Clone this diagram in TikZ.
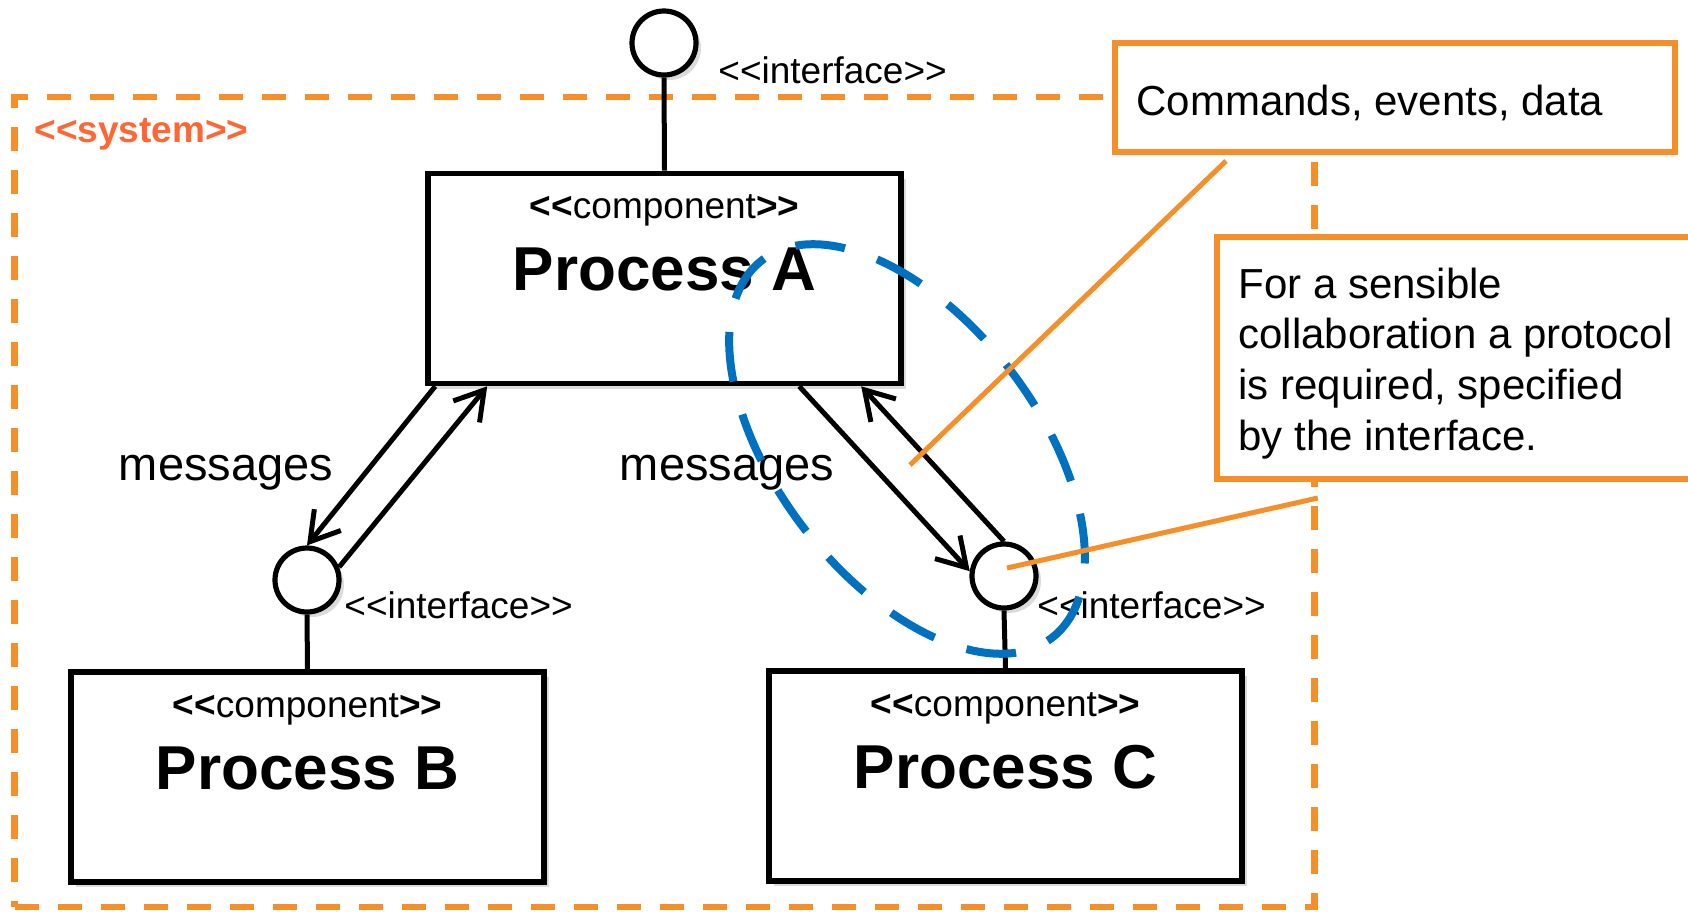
\documentclass[tikz,border=0pt]{standalone}
\usepackage{fontspec}
\setmainfont{Liberation Sans}
\usetikzlibrary{arrows.meta,calc,shadows}
\definecolor{sysorange}{HTML}{F58F29}
\definecolor{syslabel}{HTML}{FF6633}
\definecolor{protoblue}{HTML}{0070C0}
\newcommand\stereo[1]{{\bfseries <{}<}#1{\bfseries >{}>}}
\begin{document}
\begin{tikzpicture}[x=0.5pt,y=-0.5pt,
  softshadow/.style={drop shadow={shadow xshift=2.5pt, shadow yshift=-2.5pt, opacity=0.2, fill=black!70}},
  comp/.style={draw, line width=2.8pt, fill=white, minimum width=236.5pt, minimum height=105pt, inner sep=0pt, softshadow},
  iface/.style={draw, circle, line width=2.6pt, fill=white, minimum size=32pt, inner sep=0pt, softshadow},
  wire/.style={line width=2.5pt},
  msg/.style={line width=2.5pt, -{Straight Barb[length=14pt,width=17pt,line width=2.5pt]}},
  stereotxt/.style={font=\fontsize{18.5}{22}\selectfont, inner sep=0pt, anchor=base},
  titletxt/.style={font=\fontsize{31}{36}\selectfont\bfseries, inner sep=0pt, anchor=base},
  ifacetxt/.style={font=\fontsize{18.5}{22}\selectfont, inner sep=0pt, anchor=base west},
  msgtxt/.style={font=\fontsize{23.5}{28}\selectfont, inner sep=0pt, anchor=base},
  notetxt/.style={font=\fontsize{21}{25.33}\selectfont, inner sep=0pt, anchor=base west, align=left},
  sysbox/.style={draw=sysorange, line width=3.3pt, dash pattern=on 12pt off 9.5pt, inner sep=0pt},
  notebox/.style={draw=sysorange, line width=3.3pt, fill=white, inner sep=0pt},
  callout/.style={draw=sysorange, line width=2.5pt},
  protocol/.style={draw=protoblue, line width=4pt, dash pattern=on 25pt off 17pt}
]
\useasboundingbox (0,0) rectangle (1688,911);

% system boundary
\node[sysbox, minimum width=650pt, minimum height=405pt] (sys) at (664.5,502) {};
\node[font=\fontsize{18.5}{22}\selectfont\bfseries, text=syslabel, inner sep=0pt, anchor=base west] (syst) at (34,142) {<{}<system>{}>};

% annotation boxes
\node[notebox, minimum width=280pt, minimum height=54.5pt] (cmd) at (1395,97.5) {};
\node[notetxt] (cmdt) at (1136,115) {Commands, events, data};
\node[notebox, minimum width=241.5pt, minimum height=121pt] (note) at (1458.5,358) {};
\node[notetxt] (notet) at (1238,450) {For a sensible\\collaboration a protocol\\is required, specified\\by the interface.};

% components
\node[comp] (A) at (664.5,278.5) {};
\node[comp] (B) at (307.5,777) {};
\node[comp] (C) at (1005.5,776) {};
\foreach \c/\t in {A/Process A, B/Process B, C/Process C}{
  \node[stereotxt] (\c st) at ($(\c.north)+(0,48)$) {\stereo{component}};
  \node[titletxt] (\c ti) at ($(\c.north)+(0,120)$) {\t};
}

% provided interfaces
\node[iface] (iA) at (664,43) {};
\node[iface] (iB) at (307,580) {};
\node[iface] (iC) at (1004,576) {};
\draw[wire] (iA.south) -- (A.north);
\draw[wire] (iB.south) -- (B.north);
\draw[wire] (iC.south) -- (C.north);
\node[ifacetxt] (iAt) at (718,83) {<{}<interface>{}>};
\node[ifacetxt] (iBt) at (344,618) {<{}<interface>{}>};
\node[ifacetxt] (iCt) at (1037,618) {<{}<interface>{}>};

% message flows
\draw[msg] ([xshift=5pt]A.south west) -- (iB.north);
\draw[msg] (iB.22) -- ([xshift=31pt]A.south west);
\draw[msg] ([xshift=187pt]A.south west) -- (iC.172);
\draw[msg] (iC.north) -- ([xshift=218pt]A.south west);
\node[msgtxt] (mAB) at (226,480) {messages};
\node[msgtxt] (mAC) at (727,480) {messages};

% protocol scope
\coordinate (ell) at (907,449);
\draw[protocol, rotate around={-52.5:(ell)}] (ell) ellipse [x radius=119pt, y radius=65pt];

% callout lines
\coordinate (c1s) at (1226,161);
\coordinate (c1e) at (910,465);
\draw[callout] (c1s) -- (c1e);
\draw[callout] ([yshift=2pt]sys.east) -- ($(iC.center)+(3,-8)$);
\end{tikzpicture}
\end{document}
